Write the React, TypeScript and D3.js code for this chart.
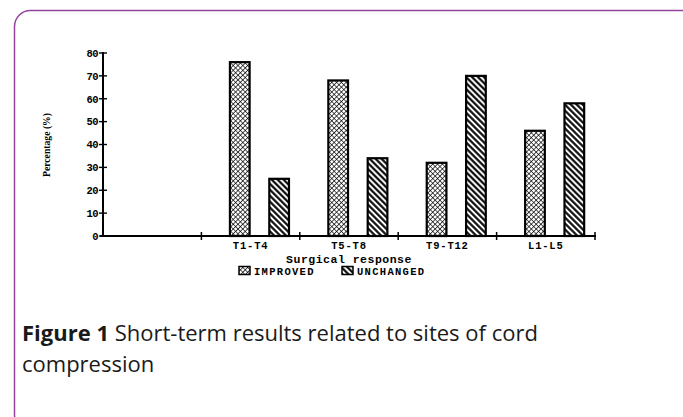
import React, { useEffect, useRef } from 'react';
import * as d3 from 'd3';

// sites of cord compression (first slot on the axis is left empty in the original)
const categories = ['', 'T1-T4', 'T5-T8', 'T9-T12', 'L1-L5'];
const improved = [null, 76, 68, 32, 46];
const unchanged = [null, 25, 34, 70, 58];
const yTicks = [0, 10, 20, 30, 40, 50, 60, 70, 80];
const seriesNames = ['IMPROVED', 'UNCHANGED'];

const W = 683;
const H = 417;
const plotFont = '"Liberation Mono", "DejaVu Sans Mono", monospace';
const capFont = '"Open Sans", sans-serif';

export default function App() {
    const svgRef = useRef<SVGSVGElement>(null);

    useEffect(() => {
        const svg = d3.select(svgRef.current);
        svg.selectAll('*').remove();

        const defs = svg.append('defs');
        // cross hatch for improved
        const cross = defs
            .append('pattern')
            .attr('id', 'pat-cross')
            .attr('patternUnits', 'userSpaceOnUse')
            .attr('width', 3.4)
            .attr('height', 3.4)
            .attr('patternTransform', 'rotate(45)');
        cross.append('rect').attr('width', 3.4).attr('height', 3.4).attr('fill', '#fff');
        cross.append('path').attr('d', 'M0,0H3.4M0,0V3.4').attr('stroke', '#000').attr('stroke-width', 1.4);
        // diagonal stripes for unchanged
        const diag = defs
            .append('pattern')
            .attr('id', 'pat-diag')
            .attr('patternUnits', 'userSpaceOnUse')
            .attr('width', 4.2)
            .attr('height', 4.2)
            .attr('patternTransform', 'rotate(45)');
        diag.append('rect').attr('width', 4.2).attr('height', 4.2).attr('fill', '#fff');
        diag.append('path').attr('d', 'M0,2.1H4.2').attr('stroke', '#000').attr('stroke-width', 2.1);

        const fills = ['url(#pat-cross)', 'url(#pat-diag)'];

        // frame
        svg.append('rect')
            .attr('x', 14.5)
            .attr('y', 10.5)
            .attr('width', 690)
            .attr('height', 420)
            .attr('rx', 16)
            .attr('fill', '#fff')
            .attr('stroke', '#93449b')
            .attr('stroke-width', 1.5);

        const x = d3.scaleBand<string>().domain(categories).range([103, 595]);
        const bw = x.bandwidth();
        const xSub = d3
            .scaleBand<string>()
            .domain(seriesNames)
            .range([0.29 * bw, 0.89 * bw])
            .paddingInner(0.5);
        const y = d3.scaleLinear().domain([0, 80]).range([236, 53]);

        const g = svg.append('g');

        // bars
        const rows = categories.map((c, i) => ({ c, vals: [improved[i], unchanged[i]] }));
        rows.forEach((r) => {
            r.vals.forEach((v, k) => {
                if (v == null) return;
                g.append('rect')
                    .attr('x', (x(r.c) as number) + (xSub(seriesNames[k]) as number))
                    .attr('y', y(v))
                    .attr('width', xSub.bandwidth())
                    .attr('height', y(0) - y(v))
                    .attr('fill', fills[k])
                    .attr('stroke', '#000')
                    .attr('stroke-width', 2.2);
            });
        });

        // y axis
        g.append('line')
            .attr('x1', 103)
            .attr('x2', 103)
            .attr('y1', y(80) - 1)
            .attr('y2', y(0) + 1)
            .attr('stroke', '#000')
            .attr('stroke-width', 2);
        yTicks.forEach((t) => {
            g.append('line')
                .attr('x1', 99)
                .attr('x2', 107)
                .attr('y1', y(t))
                .attr('y2', y(t))
                .attr('stroke', '#000')
                .attr('stroke-width', 1.4);
            g.append('text')
                .attr('x', 98)
                .attr('y', y(t) + 3.8)
                .attr('text-anchor', 'end')
                .attr('font-family', plotFont)
                .attr('font-weight', 'bold')
                .attr('font-size', 10.5)
                .attr('letter-spacing', -0.5)
                .text(t);
        });

        // x axis
        g.append('line')
            .attr('x1', 100)
            .attr('x2', 596)
            .attr('y1', y(0))
            .attr('y2', y(0))
            .attr('stroke', '#000')
            .attr('stroke-width', 2);
        categories.forEach((c) => {
            const xx = (x(c) as number) + bw;
            g.append('line')
                .attr('x1', xx)
                .attr('x2', xx)
                .attr('y1', y(0) - 4)
                .attr('y2', y(0) + 4)
                .attr('stroke', '#000')
                .attr('stroke-width', 1.5);
            if (c) {
                g.append('text')
                    .attr('x', (x(c) as number) + bw / 2)
                    .attr('y', 249)
                    .attr('text-anchor', 'middle')
                    .attr('font-family', plotFont)
                    .attr('font-weight', 'bold')
                    .attr('font-size', 10.5)
                    .attr('letter-spacing', 0.8)
                    .text(c);
            }
        });

        // axis titles
        g.append('text')
            .attr('transform', 'translate(50,145) rotate(-90)')
            .attr('text-anchor', 'middle')
            .attr('font-family', '"Liberation Serif", serif')
            .attr('font-weight', 'bold')
            .attr('font-size', 10)
            .attr('textLength', 64)
            .attr('lengthAdjust', 'spacingAndGlyphs')
            .text('Percentage (%)');
        g.append('text')
            .attr('x', 349)
            .attr('y', 262.5)
            .attr('text-anchor', 'middle')
            .attr('font-family', plotFont)
            .attr('font-weight', 'bold')
            .attr('font-size', 11.5)
            .attr('letter-spacing', 0.5)
            .text('Surgical response');

        // legend
        const legX = [239, 342];
        seriesNames.forEach((s, k) => {
            g.append('rect')
                .attr('x', legX[k])
                .attr('y', 266.5)
                .attr('width', 11)
                .attr('height', 8)
                .attr('fill', fills[k])
                .attr('stroke', '#000')
                .attr('stroke-width', 1.5);
            g.append('text')
                .attr('x', legX[k] + 15)
                .attr('y', 275)
                .attr('font-family', plotFont)
                .attr('font-weight', 'bold')
                .attr('font-size', 10.5)
                .attr('letter-spacing', 1.3)
                .text(s);
        });

        // caption
        const cap = svg
            .append('text')
            .attr('x', 22)
            .attr('y', 341)
            .attr('font-family', capFont)
            .attr('font-size', 22)
            .attr('fill', '#1a1a1a');
        cap.append('tspan').attr('font-weight', 'bold').text('Figure 1');
        cap.append('tspan').text(' Short-term results related to sites of cord');
        svg.append('text')
            .attr('x', 22)
            .attr('y', 372)
            .attr('font-family', capFont)
            .attr('font-size', 22)
            .attr('fill', '#1a1a1a')
            .text('compression');
    }, []);

    return (
        <div style={{ position: 'absolute', left: 0, top: 0 }}>
            <svg ref={svgRef} width={W} height={H} style={{ display: 'block' }} />
        </div>
    );
}
